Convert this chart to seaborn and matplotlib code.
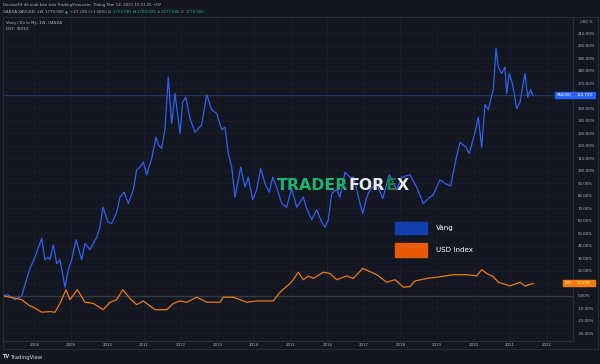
import matplotlib
matplotlib.use("Agg")
import numpy as np
import pandas as pd
import seaborn as sns
import matplotlib.pyplot as plt
from matplotlib.patches import Rectangle

# ---------------- data ----------------
gold_years = [2007.123, 2007.279, 2007.470, 2007.653, 2007.743, 2007.880, 2008.016, 2008.199,
              2008.290, 2008.380, 2008.426, 2008.516, 2008.609, 2008.699, 2008.836, 2008.926,
              2009.019, 2009.137, 2009.292, 2009.383, 2009.519, 2009.702, 2009.792, 2009.874,
              2010.011, 2010.112, 2010.249, 2010.339, 2010.448, 2010.566, 2010.702, 2010.795,
              2010.885, 2010.975, 2011.068, 2011.205, 2011.322, 2011.385, 2011.478, 2011.568,
              2011.658, 2011.751, 2011.842, 2011.978, 2012.052, 2012.134, 2012.251, 2012.388,
              2012.571, 2012.708, 2012.844, 2012.981, 2013.118, 2013.208, 2013.298, 2013.391,
              2013.481, 2013.637, 2013.754, 2013.844, 2013.964, 2014.074, 2014.183, 2014.301,
              2014.418, 2014.511, 2014.620, 2014.757, 2014.893, 2015.030, 2015.167, 2015.347,
              2015.440, 2015.577, 2015.713, 2015.850, 2015.940, 2016.030, 2016.123, 2016.260,
              2016.350, 2016.486, 2016.623, 2016.713, 2016.806, 2016.896, 2016.970, 2017.079,
              2017.169, 2017.352, 2017.516, 2017.697, 2017.899, 2018.036, 2018.262, 2018.445,
              2018.626, 2018.762, 2018.899, 2019.082, 2019.219, 2019.374, 2019.492, 2019.628,
              2019.792, 2019.883, 2020.038, 2020.128, 2020.221, 2020.311, 2020.402, 2020.467,
              2020.538, 2020.612, 2020.675, 2020.768, 2020.858, 2020.904, 2020.975, 2021.068,
              2021.178, 2021.268, 2021.404, 2021.478, 2021.560, 2021.615]
gold_pct = [0, 1, -3, 0, 9, 22, 31, 46,
            29, 31, 29, 41, 26, 29, 7, 21,
            29, 45, 29, 42, 37, 47, 55, 71,
            59, 58, 67, 79, 83, 74, 85, 101,
            103, 107, 97, 110, 127, 121, 118, 134,
            175, 138, 162, 130, 155, 159, 142, 131,
            137, 161, 149, 146, 133, 135, 114, 103,
            79, 103, 87, 95, 77, 85, 102, 90,
            83, 95, 87, 74, 71, 86, 71, 79,
            70, 61, 69, 59, 55, 61, 82, 85,
            79, 99, 95, 95, 85, 74, 66, 79,
            85, 90, 78, 97, 85, 95, 97, 87,
            74, 78, 81, 93, 90, 88, 106, 123,
            119, 114, 131, 143, 119, 153, 149, 157,
            165, 198, 183, 178, 183, 162, 178, 169,
            150, 155, 178, 159, 165, 160.73]

dxy_years = [2007.150, 2007.516, 2007.653, 2007.880, 2007.970, 2008.199, 2008.426, 2008.563,
             2008.699, 2008.863, 2008.973, 2009.172, 2009.383, 2009.609, 2009.883, 2010.066,
             2010.249, 2010.413, 2010.612, 2010.795, 2010.975, 2011.295, 2011.615, 2011.795,
             2011.978, 2012.161, 2012.434, 2012.708, 2013.071, 2013.161, 2013.434, 2013.801,
             2014.074, 2014.527, 2014.710, 2014.984, 2015.074, 2015.210, 2015.347, 2015.484,
             2015.620, 2015.893, 2016.077, 2016.260, 2016.533, 2016.713, 2016.970, 2017.169,
             2017.352, 2017.626, 2017.852, 2018.079, 2018.262, 2018.399, 2018.719, 2018.992,
             2019.445, 2019.811, 2020.085, 2020.221, 2020.358, 2020.538, 2020.675, 2020.995,
             2021.268, 2021.404, 2021.631]
dxy_pct = [0, -2, -3, -8, -9, -13, -12.5, -13,
           -6, 5, -3, 5, -5, -6, -11, -5,
           -3, 5, -2, -7, -4, -11, -11, -6,
           -4, -5, -1, -5, -5, -1, -1, -5,
           -4, -4, 3, 10, 13, 19, 13, 16,
           14, 19, 18, 13, 16, 14, 22, 19.5,
           17, 11, 13, 7, 7.5, 12, 14, 15,
           17, 17, 16, 21, 18, 15.5, 11, 8,
           11, 8, 10.03]

year_ticks = list(range(2008, 2023))
pct_ticks = list(range(-30, 211, 10))
gold_last = 160.73
dxy_last = 10.03
legend_labels = ["Vàng", "USD Index"]

# ---------------- style ----------------
W, H = 600, 364
BG = "#131722"
GRID = "#1b1f2b"
BORDER = "#2a2e39"
TXT = "#b2b5be"
GOLD_C = "#2e62f0"
DXY_C = "#ef7a10"

sns.set_theme(style="dark")
plt.rcParams["font.family"] = ["DejaVu Sans"]

fig = plt.figure(figsize=(W / 100, H / 100), dpi=100, facecolor=BG)

L, R, T, B = 2.7, 573.3, 17.0, 340.7
ax = fig.add_axes([L / W, 1 - B / H, (R - L) / W, (B - T) / H])
ax.set_facecolor(BG)

df_gold = pd.DataFrame({"year": gold_years, "pct": gold_pct})
df_dxy = pd.DataFrame({"year": dxy_years, "pct": dxy_pct})

ax.axhline(0, color="#363a45", lw=1.0, zorder=1)
ax.axhline(gold_last, color="#22356e", lw=0.7, zorder=1)

sns.lineplot(data=df_gold, x="year", y="pct", ax=ax, color=GOLD_C, lw=0.9,
             estimator=None, sort=False, legend=False, zorder=3)
sns.lineplot(data=df_dxy, x="year", y="pct", ax=ax, color=DXY_C, lw=0.9,
             estimator=None, sort=False, legend=False, zorder=3)

ax.set_xlim(2007.134, 2022.724)
ax.set_ylim(-35.8, 223.2)
ax.set_xlabel("")
ax.set_ylabel("")

ax.set_xticks(year_ticks)
ax.set_xticklabels([str(y) for y in year_ticks])
ax.yaxis.tick_right()
ax.set_yticks(pct_ticks)
ax.set_yticklabels([f"{v:.2f}%" for v in pct_ticks])
ax.tick_params(axis="both", length=0, labelsize=2.8, colors=TXT)
ax.tick_params(axis="y", pad=3.2)
ax.tick_params(axis="x", pad=1.8)

ax.grid(True, color=GRID, lw=0.6)
ax.set_axisbelow(True)
for s in ["top", "left"]:
    ax.spines[s].set_visible(False)
for s in ["right", "bottom"]:
    ax.spines[s].set_color(BORDER)
    ax.spines[s].set_linewidth(0.8)

# panel outline
fig.add_artist(Rectangle((L / W, 1 - 349.3 / H), (598 - L) / W, (349.3 - 16.7) / H,
                         transform=fig.transFigure, fill=False, edgecolor=BORDER, lw=0.6))

# price labels on the right scale
ytr = ax.get_yaxis_transform()
axw = R - L
def px2ax(xp):
    return (xp - L) / axw

def price_tag(val, name, x0, color):
    h = 6 * 0.8 / 2  # half height in data units (6 px)
    ax.add_patch(Rectangle((px2ax(x0), val - h), px2ax(573.3) - px2ax(x0), 2 * h,
                           transform=ytr, color=color, clip_on=False, zorder=5))
    ax.add_patch(Rectangle((px2ax(573.8), val - h), px2ax(595) - px2ax(573.8), 2 * h,
                           transform=ytr, color=color, clip_on=False, zorder=5))
    ax.text((px2ax(x0) + px2ax(573.3)) / 2, val, name, transform=ytr, color="white",
            fontsize=2.5, ha="center", va="center", clip_on=False, zorder=6)
    ax.text(px2ax(577), val, f"{val:.2f}%", transform=ytr, color="white",
            fontsize=2.7, ha="left", va="center", clip_on=False, zorder=6)

price_tag(gold_last, "XAUUSD", 555, "#2962ff")
price_tag(dxy_last, "DXY", 562.7, "#f57c00")

fig.text(580 / W, 1 - 22 / H, "USD %", color=TXT, fontsize=2.6, ha="left", va="center")

# legend boxes
def fx(x):
    return x / W
def fy(y):
    return 1 - y / H

fig.add_artist(Rectangle((fx(395), fy(234)), 32 / W, 12.3 / H, transform=fig.transFigure,
                         color="#1240ae", zorder=6))
fig.add_artist(Rectangle((fx(395), fy(256.7)), 32 / W, 13.4 / H, transform=fig.transFigure,
                         color="#e85a06", zorder=6))
fig.text(fx(436), fy(228), legend_labels[0], color="white", fontsize=5.1, ha="left", va="center")
fig.text(fx(436), fy(250), legend_labels[1], color="white", fontsize=5.1, ha="left", va="center")

renderer = fig.canvas.get_renderer()

def seq_text(x_px, y_px, pieces, size, weight="normal", gap=0.0):
    x = x_px
    for s, c in pieces:
        t = fig.text(fx(x), fy(y_px), s, color=c, fontsize=size, weight=weight,
                     ha="left", va="center", zorder=7)
        bb = t.get_window_extent(renderer=renderer)
        x += bb.width + gap
    return x

# watermark
seq_text(277, 185, [("TRADER", "#19b46f"), ("FOR", "#e9e9e9"), ("E", "#11853d"), ("X", "#e9e9e9")],
         11.3, weight="bold", gap=0.5)

# header
fig.text(fx(3), fy(5), "DinvestFX đã xuất bản trên TradingView.com, Tháng Tám 14, 2021 15:51:25 +07",
         color=TXT, fontsize=2.8, ha="left", va="center")
TEAL = "#26a69a"
seq_text(3, 12, [("OANDA:XAUUSD, 1W ", TXT), ("1779.900 ", TXT), ("▲ ", TEAL),
                 ("+27.290 (+1.56%) ", TXT), ("O:", TXT), ("1763.085 ", TEAL), ("H:", TXT),
                 ("1780.095 ", TEAL), ("L:", TXT), ("1677.686 ", TEAL), ("C:", TXT),
                 ("1779.900", TEAL)], 2.8, gap=0.3)
fig.text(fx(6), fy(22.7), "Vàng / Đô la Mỹ, 1W, OANDA", color=TXT, fontsize=2.8, ha="left", va="center")
fig.text(fx(6), fy(29), "DXY, INDEX", color=TXT, fontsize=2.8, ha="left", va="center")

# footer
seq_text(3, 357, [("TV", "#d1d4dc")], 3.6, weight="bold", gap=1.5)
fig.text(fx(11), fy(357), "TradingView", color="#d1d4dc", fontsize=3.8, ha="left", va="center")

fig.savefig("out.png", dpi=100, facecolor=BG)
